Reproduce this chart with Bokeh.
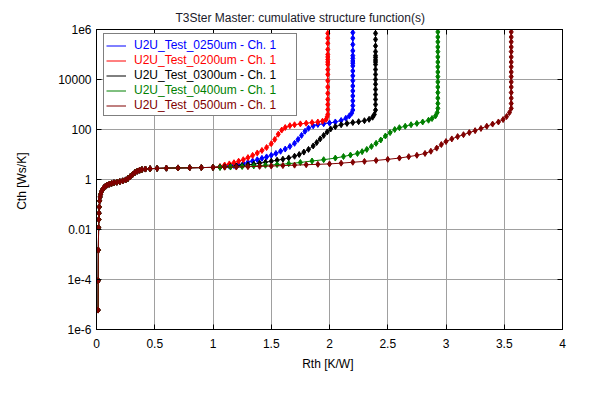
from bokeh.plotting import figure
from bokeh.models import (Legend, LegendItem, LinearAxis, LogAxis, FixedTicker,
                          CustomJSTickFormatter)
from bokeh.embed import file_html
from bokeh.resources import INLINE

FONT = "Liberation Sans"

# ---------------- data ----------------
x_ticks = [0, 0.5, 1, 1.5, 2, 2.5, 3, 3.5, 4]
x_tick_labels = ["0", "0.5", "1", "1.5", "2", "2.5", "3", "3.5", "4"]
y_ticks = [1e-6, 1e-4, 1e-2, 1, 100, 1e4, 1e6]
y_tick_labels = ["1e-6", "1e-4", "0.01", "1", "100", "10000", "1e6"]

# common initial part (all curves overlap here)
base_rth = [0.014, 0.015, 0.016, 0.018, 0.020, 0.022,
            0.024, 0.027, 0.031, 0.036, 0.043, 0.052, 0.063, 0.077, 0.093, 0.11,
            0.13, 0.15, 0.175, 0.2, 0.225, 0.25, 0.27, 0.29, 0.31, 0.33,
            0.35, 0.37, 0.39, 0.42, 0.46, 0.52, 0.6, 0.7, 0.8, 0.9, 1.0]
base_cth = [6e-6, 9e-5, 1.5e-3, 0.012, 0.025, 0.045,
            0.08, 0.14, 0.2, 0.26, 0.33, 0.4, 0.47, 0.54, 0.6, 0.65,
            0.7, 0.74, 0.78, 0.82, 0.88, 0.96, 1.1, 1.3, 1.6, 1.9,
            2.15, 2.35, 2.5, 2.62, 2.7, 2.78, 2.85, 2.9, 2.95, 3.0, 3.05]

# U2U_Test_0250um (blue)
t0250_rth = [1.06, 1.1, 1.14, 1.18, 1.22, 1.26, 1.30, 1.34, 1.38, 1.42, 1.46, 1.50,
             1.54, 1.58, 1.62, 1.66, 1.70, 1.73, 1.76, 1.79, 1.82, 1.86, 1.9, 1.95,
             2.0, 2.05, 2.1, 2.14, 2.17, 2.19,
             2.2, 2.2, 2.2, 2.2, 2.2, 2.2, 2.2, 2.2, 2.2, 2.2, 2.2, 2.2, 2.2, 2.2,
             2.2, 2.2, 2.2, 2.2, 2.2]
t0250_cth = [3.2, 3.3, 3.45, 3.6, 3.85, 4.3, 4.9, 5.5, 6.2, 7.0, 8.0, 9.3,
             11, 13.5, 16.5, 21, 28, 40, 58, 85, 112, 140, 158, 170,
             182, 200, 230, 280, 350, 450,
             600, 900, 1400, 2200, 3500, 5500, 9000, 1.4e4, 2.2e4, 3.5e4, 4.5e4, 5.5e4,
             7e4, 9e4, 1.4e5, 2.5e5, 4.5e5, 7.5e5, 1.3e6]

# U2U_Test_0200um (red)
t0200_rth = [1.06, 1.1, 1.14, 1.18, 1.22, 1.26, 1.30, 1.34, 1.38, 1.42, 1.46, 1.50,
             1.53, 1.56, 1.59, 1.62, 1.66, 1.70, 1.75, 1.80, 1.85, 1.9, 1.94, 1.97, 1.98,
             1.985, 1.985, 1.985, 1.985, 1.985, 1.985, 1.985, 1.985, 1.985, 1.985,
             1.985, 1.985, 1.985, 1.985, 1.985, 1.985, 1.985, 1.985, 1.985]
t0200_cth = [3.3, 3.8, 4.2, 4.7, 5.4, 6.2, 7.5, 9.2, 11.5, 14.5, 19, 27,
             40, 65, 95, 120, 142, 155, 168, 178, 190, 200, 215, 250, 320,
             400, 630, 1000, 1600, 2800, 5000, 8900, 1.6e4, 2.5e4, 4e4,
             5e4, 6.3e4, 8e4, 1e5, 1.6e5, 2.8e5, 4.5e5, 7e5, 1.26e6]

# U2U_Test_0300um (black)
t0300_rth = [1.06, 1.1, 1.15, 1.2, 1.25, 1.3, 1.35, 1.4, 1.45, 1.5, 1.55, 1.6,
             1.65, 1.7, 1.74, 1.78, 1.82, 1.86, 1.89, 1.92, 1.95, 1.98, 2.01, 2.05,
             2.1, 2.15, 2.2, 2.25, 2.3, 2.34, 2.37, 2.385,
             2.395, 2.395, 2.395, 2.395, 2.395, 2.395, 2.395, 2.395, 2.395, 2.395,
             2.395, 2.395, 2.395, 2.395, 2.395, 2.395, 2.395, 2.395, 2.395]
t0300_cth = [3.1, 3.2, 3.3, 3.45, 3.6, 3.85, 4.1, 4.5, 4.9, 5.4, 5.9, 6.5,
             7.3, 8.5, 10, 12.5, 16, 22, 30, 42, 58, 80, 105, 130,
             155, 175, 190, 205, 225, 255, 310, 400,
             600, 1000, 1600, 2500, 4000, 6500, 1e4, 1.6e4, 2.5e4, 4e4,
             5e4, 6e4, 7.5e4, 9e4, 1.3e5, 2.2e5, 4e5, 7e5, 1.3e6]

# U2U_Test_0400um (green)
t0400_rth = [1.06, 1.15, 1.25, 1.35, 1.45, 1.55, 1.65, 1.75, 1.85, 1.95, 2.05, 2.12,
             2.18, 2.24, 2.28, 2.32, 2.36, 2.4, 2.44, 2.48, 2.52, 2.56, 2.6, 2.65,
             2.7, 2.75, 2.8, 2.85, 2.88, 2.91, 2.925,
             2.93, 2.93, 2.93, 2.93, 2.93, 2.93, 2.93, 2.93, 2.93, 2.93, 2.93, 2.93,
             2.93, 2.93, 2.93, 2.93, 2.93]
t0400_cth = [3.05, 3.15, 3.3, 3.5, 3.7, 3.95, 4.3, 4.8, 5.5, 6.2, 7.2, 8.3,
             9.5, 11, 13, 16, 21, 28, 38, 55, 75, 100, 118, 135,
             155, 175, 200, 235, 275, 350, 480,
             700, 1100, 1800, 3000, 5000, 8000, 1.3e4, 2e4, 3.2e4, 5e4, 8e4, 1.3e5,
             2e5, 3.2e5, 5e5, 8e5, 1.3e6]

# U2U_Test_0500um (dark red)
t0500_rth = [1.1, 1.2, 1.3, 1.4, 1.5, 1.6, 1.7, 1.8, 1.9, 2.0, 2.1, 2.2,
             2.3, 2.4, 2.5, 2.6, 2.68, 2.75, 2.82, 2.87, 2.92, 2.96, 3.0, 3.05,
             3.1, 3.15, 3.2, 3.25, 3.3, 3.35, 3.4, 3.45, 3.49, 3.52, 3.545,
             3.56, 3.56, 3.56, 3.56, 3.56, 3.56, 3.56, 3.56, 3.56, 3.56, 3.56, 3.56,
             3.56, 3.56, 3.56, 3.56, 3.56]
t0500_cth = [3.1, 3.15, 3.25, 3.35, 3.45, 3.6, 3.75, 3.9, 4.05, 4.2, 4.5, 4.9,
             5.3, 5.8, 6.4, 7.2, 8.2, 9.3, 11, 13.5, 18, 25, 33, 42,
             52, 62, 75, 90, 110, 135, 165, 200, 250, 330, 480,
             700, 1100, 1800, 3000, 5000, 8000, 1.3e4, 2e4, 3.2e4, 5e4, 8e4, 1.3e5,
             2e5, 3.2e5, 5e5, 8e5, 1.3e6]

names = ["U2U_Test_0250um - Ch. 1", "U2U_Test_0200um - Ch. 1", "U2U_Test_0300um - Ch. 1",
         "U2U_Test_0400um - Ch. 1", "U2U_Test_0500um - Ch. 1"]
colors = ["#0000ff", "#ff0000", "#000000", "#008000", "#800000"]
tails = [(t0250_rth, t0250_cth), (t0200_rth, t0200_cth), (t0300_rth, t0300_cth),
         (t0400_rth, t0400_cth), (t0500_rth, t0500_cth)]

# ---------------- figure ----------------
p = figure(width=598, height=398, x_range=(0, 4), y_range=(1e-6, 1e6), y_axis_type="log",
           output_backend="svg", toolbar_location=None,
           min_border_left=96, min_border_right=36, min_border_top=29, min_border_bottom=69)
p.outline_line_color = "black"
p.background_fill_color = "white"
p.border_fill_color = "white"

p.title.text = "T3Ster Master: cumulative structure function(s)"
p.title.align = "left"
p.title.offset = 79
p.title.standoff = 10
p.title.text_font = FONT
p.title.text_font_size = "12px"
p.title.text_font_style = "normal"
p.title.text_color = "#1a1a2a"

x_fmt = CustomJSTickFormatter(args=dict(t=x_ticks, l=x_tick_labels), code="""
let b = 0, d = Infinity;
for (let i = 0; i < t.length; i++) { const dd = Math.abs(t[i] - tick); if (dd < d) { d = dd; b = i; } }
return l[b];
""")
y_fmt = CustomJSTickFormatter(args=dict(t=y_ticks, l=y_tick_labels), code="""
let b = 0, d = Infinity;
for (let i = 0; i < t.length; i++) { const dd = Math.abs(Math.log10(t[i]) - Math.log10(tick)); if (dd < d) { d = dd; b = i; } }
return l[b];
""")
blank_fmt = CustomJSTickFormatter(code="return '';")

xt = FixedTicker(ticks=x_ticks)
yt = FixedTicker(ticks=y_ticks)

def style_axis(ax):
    ax.axis_line_color = "black"
    ax.major_tick_line_color = "black"
    ax.major_tick_in = 5
    ax.major_tick_out = 0
    ax.minor_tick_line_color = None
    ax.minor_tick_in = 0
    ax.minor_tick_out = 0
    ax.major_label_text_font = FONT
    ax.major_label_text_font_size = "12px"
    ax.major_label_text_color = "black"
    ax.axis_label_text_font = FONT
    ax.axis_label_text_font_size = "12px"
    ax.axis_label_text_font_style = "normal"
    ax.axis_label_text_color = "black"

xa = p.xaxis[0]
ya = p.yaxis[0]
style_axis(xa)
style_axis(ya)
xa.ticker = xt
ya.ticker = yt
xa.formatter = x_fmt
ya.formatter = y_fmt
xa.axis_label = "Rth  [K/W]"
ya.axis_label = "Cth  [Ws/K]"
xa.major_label_standoff = 9
xa.axis_label_standoff = 6
ya.major_label_standoff = 5
ya.axis_label_standoff = 26

top_ax = LinearAxis(ticker=FixedTicker(ticks=x_ticks), formatter=blank_fmt)
right_ax = LogAxis(ticker=FixedTicker(ticks=y_ticks), formatter=blank_fmt)
for ax in (top_ax, right_ax):
    style_axis(ax)
    ax.major_label_text_font_size = "0px"
    ax.major_label_standoff = 0
p.add_layout(top_ax, "above")
p.add_layout(right_ax, "right")

p.xgrid.ticker = xt
p.ygrid.ticker = yt
p.xgrid.grid_line_color = "#a0a0a0"
p.ygrid.grid_line_color = "#a0a0a0"
p.xgrid.grid_line_width = 1
p.ygrid.grid_line_width = 1
p.ygrid.minor_grid_line_color = None

line_renderers = []
for name, color, (trth, tcth) in zip(names, colors, tails):
    rth = base_rth + trth
    cth = base_cth + tcth
    lr = p.line(rth, cth, line_color=color, line_width=1)
    p.scatter(rth, cth, marker="diamond", size=6, fill_color=color, line_color=color)
    line_renderers.append(lr)

# invisible renderer: the framed legend box only supplies border and background
dummy = p.line([], [], line_alpha=0)

common = dict(glyph_width=20, glyph_height=15, label_height=15, spacing=0, padding=3,
              margin=0, label_standoff=8, label_width=158,
              label_text_font=FONT, label_text_font_size="12px")

leg_x, leg_y = 7, 213.5
main = Legend(items=[LegendItem(label=" ", renderers=[dummy]) for _ in line_renderers],
              location=(leg_x, leg_y), border_line_color="black", border_line_width=1,
              background_fill_color="white", background_fill_alpha=1.0, **common)
p.add_layout(main)
for i, (name, color, lr) in enumerate(zip(names, colors, line_renderers)):
    leg = Legend(items=[LegendItem(label=name, renderers=[lr])],
                 location=(leg_x, leg_y + 81 - 15 * i - 21),
                 border_line_alpha=0, background_fill_alpha=0,
                 label_text_color=color, **common)
    p.add_layout(leg)

open("out.html", "w").write(file_html(p, INLINE))
